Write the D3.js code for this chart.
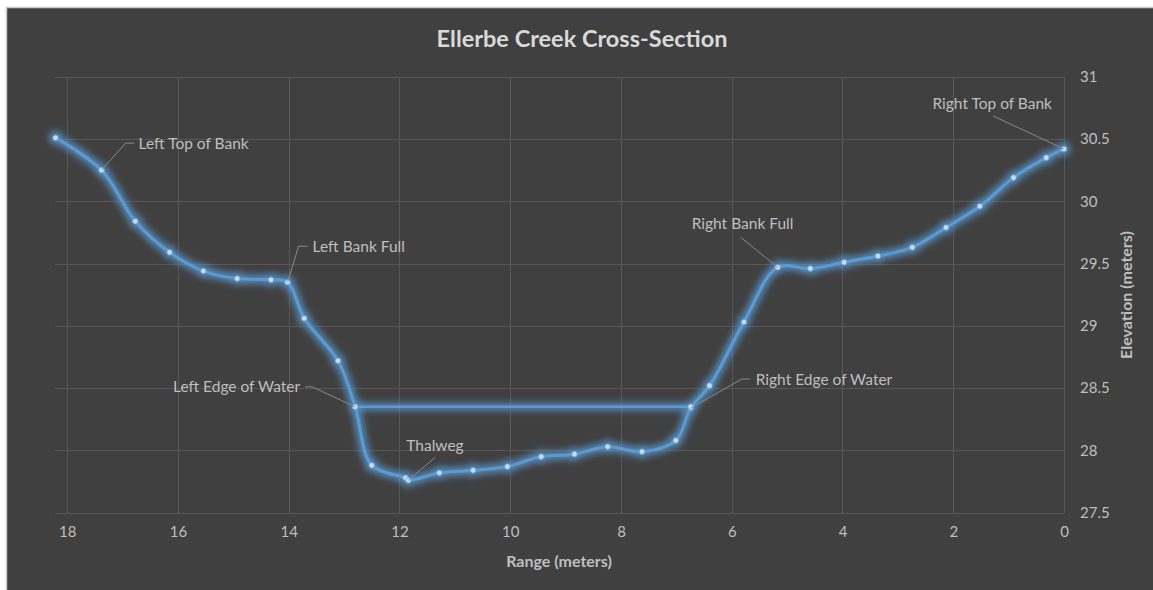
<!DOCTYPE html>
<html>
<head>
<meta charset="utf-8">
<script src="https://cdn.jsdelivr.net/npm/d3@7"></script>
<style>
  body { margin: 0; background: #ffffff; }
  svg { display: block; font-family: Lato, "Open Sans", sans-serif; }
</style>
</head>
<body>
<svg id="chart" width="1153" height="590"></svg>
<script>
// Surveyed cross-section: horizontal range from the right bank pin (m) and ground elevation (m)
const rangeM = [18.21, 17.38, 16.77, 16.15, 15.54, 14.93, 14.32, 14.02, 13.72, 13.11,
                12.80, 12.50, 11.89, 11.84, 11.28, 10.67, 10.05, 9.44, 8.84, 8.24,
                7.62, 7.01, 6.74, 6.40, 5.78, 5.17, 4.58, 3.97, 3.36, 2.74,
                2.13, 1.52, 0.91, 0.32, 0.00];
const elevM  = [30.51, 30.25, 29.84, 29.59, 29.44, 29.38, 29.37, 29.35, 29.06, 28.72,
                28.35, 27.88, 27.78, 27.76, 27.82, 27.84, 27.87, 27.95, 27.97, 28.03,
                27.99, 28.08, 28.34, 28.52, 29.03, 29.47, 29.46, 29.51, 29.56, 29.63,
                29.79, 29.96, 30.19, 30.35, 30.42];

// Water surface between the two edges of water
const waterRange = [12.80, 6.74];
const waterElev  = [28.35, 28.35];

// Named survey features (index into the cross-section arrays)
const featureNames = ["Left Top of Bank", "Left Bank Full", "Left Edge of Water", "Thalweg",
                      "Right Edge of Water", "Right Bank Full", "Right Top of Bank"];
const featureIndex = [1, 7, 10, 13, 22, 25, 34];

const xTickValues = [18, 16, 14, 12, 10, 8, 6, 4, 2, 0];
const yTickValues = [27.5, 28, 28.5, 29, 29.5, 30, 30.5, 31];

// Label placement (pixel offsets from the annotated point)
const labelLayout = [
  { dx: 37,  dy: -27, anchor: "start", leader: [[24, -27], [33, -27]] },
  { dx: 25,  dy: -36, anchor: "start", leader: [[11, -36], [20, -36]] },
  { dx: -55, dy: -20, anchor: "end",   leader: [[-43, -20], [-50, -20]] },
  { dx: -2,  dy: -35, anchor: "start", leader: [[27, -23]] },
  { dx: 65,  dy: -28, anchor: "start", leader: [[51, -29], [59, -29]] },
  { dx: -86, dy: -44, anchor: "start", leader: [[-37, -30]] },
  { dx: -12, dy: -45, anchor: "end",   leader: [[-71, -33]] }
];

const svg = d3.select("#chart");
const W = 1153, H = 590;
const plot = { left: 55, right: 1064, top: 76.7, bottom: 512.7 };

const colors = {
  bg: "#404040", grid: "#575757", text: "#bfbfbf", title: "#d9d9d9",
  line: "#5b9bd5", glow: "#5b9bd5", marker: "#c9ddf2", leader: "#8a8a8a"
};

// Chart frame
svg.append("rect").attr("x", 6.5).attr("y", 7.5).attr("width", W).attr("height", H)
  .attr("fill", colors.bg).attr("stroke", "#c8c8c8").attr("stroke-width", 1.5);

const defs = svg.append("defs");
const glow = defs.append("filter").attr("id", "glow")
  .attr("x", "-10%").attr("y", "-10%").attr("width", "120%").attr("height", "120%");
glow.append("feGaussianBlur").attr("stdDeviation", 3.8);

const x = d3.scaleLinear().domain([18.22, 0]).range([plot.left, plot.right]);
const y = d3.scaleLinear().domain([27.5, 31]).range([plot.bottom, plot.top]);

// Gridlines
const grid = svg.append("g").attr("stroke", colors.grid).attr("stroke-width", 1).attr("shape-rendering", "crispEdges");
grid.selectAll("line.h").data(yTickValues).join("line")
  .attr("x1", plot.left).attr("x2", plot.right)
  .attr("y1", d => Math.round(y(d)) + 0.5).attr("y2", d => Math.round(y(d)) + 0.5);
grid.selectAll("line.v").data(xTickValues).join("line")
  .attr("x1", d => Math.round(x(d)) + 0.5).attr("x2", d => Math.round(x(d)) + 0.5)
  .attr("y1", plot.top).attr("y2", plot.bottom);

// Axes (labels only; rules drawn as gridlines)
const xAxis = d3.axisBottom(x).tickValues(xTickValues).tickSize(0).tickPadding(14).tickFormat(d3.format("d"));
const gx = svg.append("g").attr("transform", `translate(0,${plot.bottom})`).call(xAxis);
gx.select(".domain").remove();
gx.selectAll("text").attr("fill", colors.text).style("font-size", "15px").style("font-family", "Lato, sans-serif");

const yAxis = d3.axisRight(y).tickValues(yTickValues).tickSize(0).tickPadding(16).tickFormat(d => String(d));
const gy = svg.append("g").attr("transform", `translate(${plot.right},0)`).call(yAxis);
gy.select(".domain").remove();
gy.selectAll("text").attr("fill", colors.text).style("font-size", "15px").style("font-family", "Lato, sans-serif");

// Titles
svg.append("text").attr("x", 582).attr("y", 47).attr("text-anchor", "middle")
  .attr("fill", colors.title).style("font-size", "23.5px").style("font-weight", "bold")
  .text("Ellerbe Creek Cross-Section");
svg.append("text").attr("x", 559).attr("y", 567).attr("text-anchor", "middle")
  .attr("fill", colors.text).style("font-size", "16px").style("font-weight", "bold")
  .text("Range (meters)");
svg.append("text").attr("transform", "translate(1132,295) rotate(-90)").attr("text-anchor", "middle")
  .attr("fill", colors.text).style("font-size", "16px").style("font-weight", "bold")
  .text("Elevation (meters)");

const section = rangeM.map((r, i) => [r, elevM[i]]);
const water = waterRange.map((r, i) => [r, waterElev[i]]);
const lineGen = d3.line().x(d => x(d[0])).y(d => y(d[1])).curve(d3.curveCatmullRom.alpha(0.5));
const waterGen = d3.line().x(d => x(d[0])).y(d => y(d[1]));

// Glow layer
const glowG = svg.append("g").attr("filter", "url(#glow)").attr("opacity", 0.85);
glowG.append("path").attr("d", waterGen(water)).attr("fill", "none").attr("stroke", colors.glow).attr("stroke-width", 7);
glowG.append("path").attr("d", lineGen(section)).attr("fill", "none").attr("stroke", colors.glow).attr("stroke-width", 8.5);
glowG.selectAll("circle").data(section).join("circle")
  .attr("cx", d => x(d[0])).attr("cy", d => y(d[1])).attr("r", 6.5).attr("fill", colors.glow);

// Series lines
svg.append("path").attr("d", waterGen(water)).attr("fill", "none")
  .attr("stroke", colors.line).attr("stroke-width", 2.5);
svg.append("path").attr("d", lineGen(section)).attr("fill", "none")
  .attr("stroke", colors.line).attr("stroke-width", 3).attr("stroke-linejoin", "round");

// Markers
svg.append("g").selectAll("circle").data(section).join("circle")
  .attr("cx", d => x(d[0])).attr("cy", d => y(d[1])).attr("r", 2.8)
  .attr("fill", colors.marker).attr("stroke", colors.line).attr("stroke-width", 0.8);
svg.append("g").selectAll("circle").data(water).join("circle")
  .attr("cx", d => x(d[0])).attr("cy", d => y(d[1])).attr("r", 2.8)
  .attr("fill", colors.marker).attr("stroke", colors.line).attr("stroke-width", 0.8);

// Feature labels with leader lines
const ann = svg.append("g");
featureNames.forEach((name, k) => {
  const i = featureIndex[k];
  const px = x(rangeM[i]), py = y(elevM[i]);
  const lay = labelLayout[k];
  const pts = [[px, py]].concat(lay.leader.map(p => [px + p[0], py + p[1]]));
  ann.append("path").attr("d", d3.line()(pts)).attr("fill", "none")
    .attr("stroke", colors.leader).attr("stroke-width", 1);
  ann.append("text").attr("x", px + lay.dx).attr("y", py + lay.dy)
    .attr("dy", "0.35em").attr("text-anchor", lay.anchor)
    .attr("fill", colors.text).style("font-size", "15.5px").text(name);
});
</script>
</body>
</html>
